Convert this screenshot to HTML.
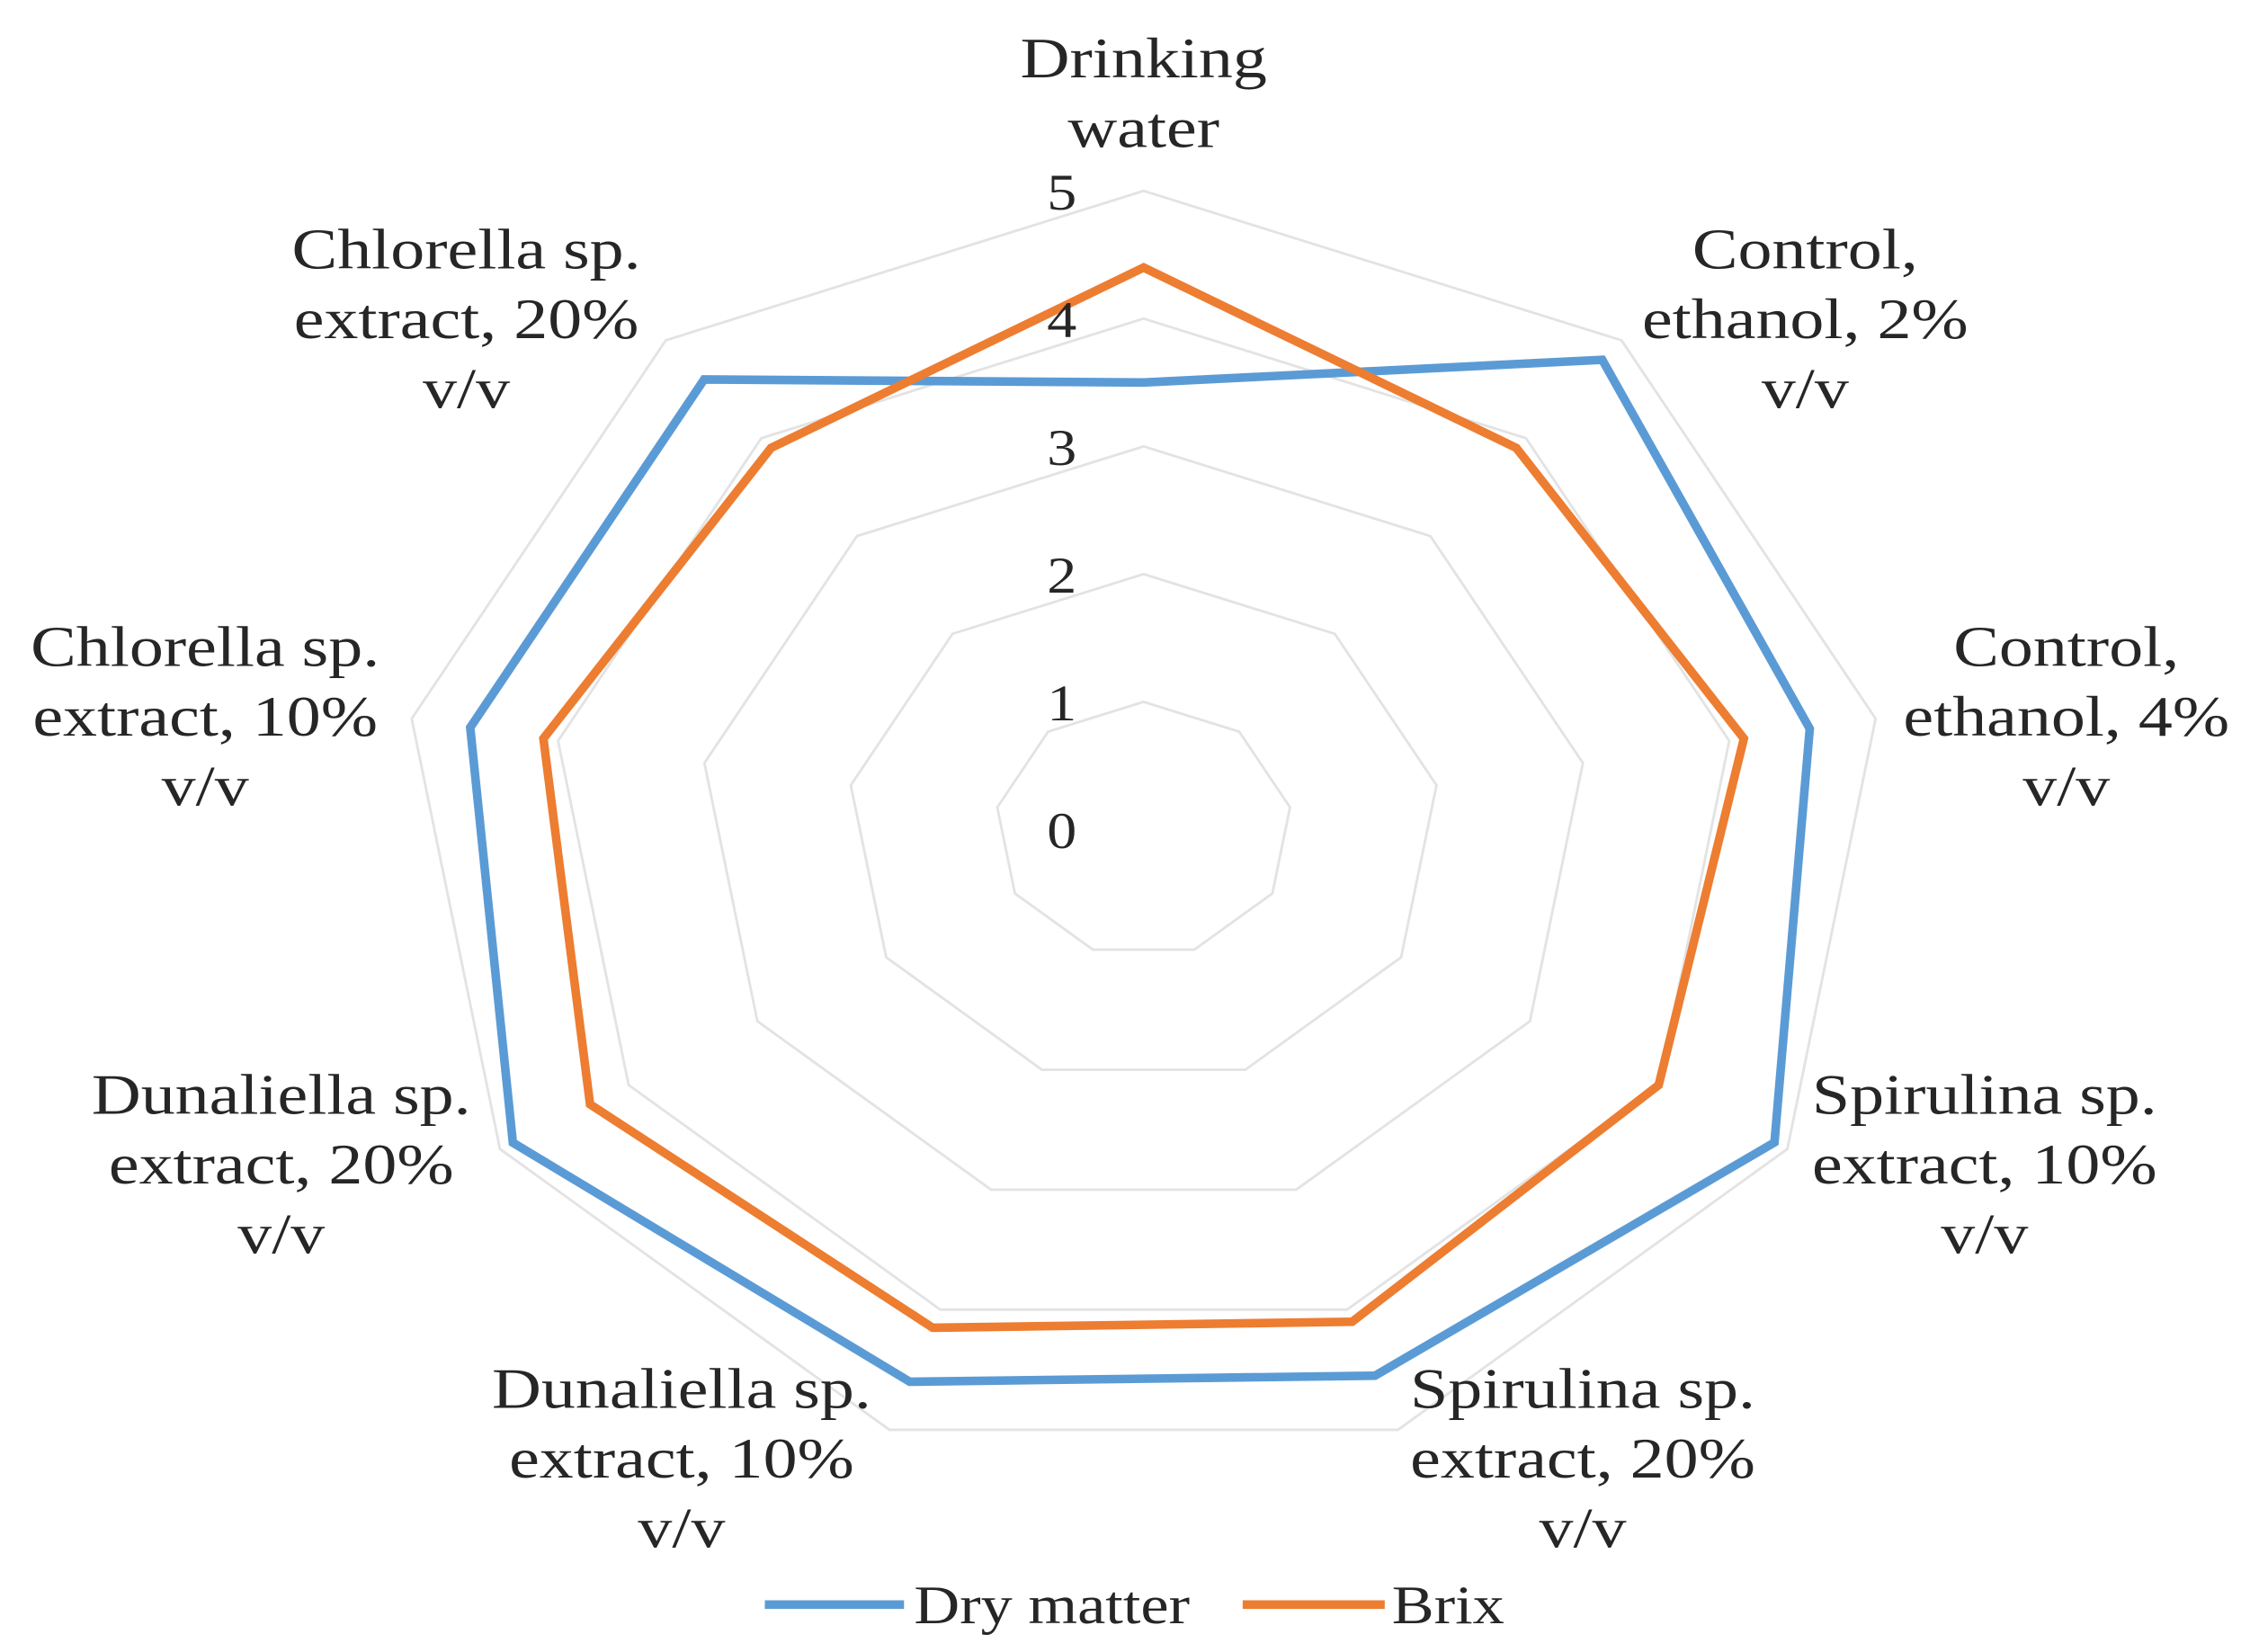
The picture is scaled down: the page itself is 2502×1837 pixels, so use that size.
<!DOCTYPE html>
<html><head><meta charset="utf-8"><style>
html,body{margin:0;padding:0;background:#fff;}
svg{display:block;}
text{font-family:"Liberation Serif",serif;fill:#262626;}
</style></head><body>
<svg id="chart" width="2502" height="1837" viewBox="0 0 1568 1151" preserveAspectRatio="none" xmlns="http://www.w3.org/2000/svg">
<g id="grid"></g>
<g id="series"></g>
<g id="labels"></g>
<g id="ticks"></g>
<g id="legend">
  <line x1="533" y1="1118" x2="630" y2="1118" stroke="#5b9bd5" stroke-width="6"/>
  <text x="637" y="1131" font-size="38" transform="translate(637 0) scale(1.16 1) translate(-637 0)">Dry matter</text>
  <line x1="866" y1="1118" x2="965" y2="1118" stroke="#ed7d31" stroke-width="6"/>
  <text x="970" y="1131" font-size="38" transform="translate(970 0) scale(1.16 1) translate(-970 0)">Brix</text>
</g>
</svg>
<script>
const categories = [["Drinking","water"],["Control,","ethanol, 2%","v/v"],["Control,","ethanol, 4%","v/v"],["Spirulina sp.","extract, 10%","v/v"],["Spirulina sp.","extract, 20%","v/v"],["Dunaliella sp.","extract, 10%","v/v"],["Dunaliella sp.","extract, 20%","v/v"],["Chlorella sp.","extract, 10%","v/v"],["Chlorella sp.","extract, 20%","v/v"]];
const dryMatter = [3.5, 4.8, 4.55, 4.9, 4.55, 4.6, 4.9, 4.6, 4.6];
const brix = [4.4, 3.9, 4.1, 4.0, 4.1, 4.15, 4.3, 4.1, 3.9];
const tickValues = [0, 1, 2, 3, 4, 5];
const maxValue = 5;

const NS = "http://www.w3.org/2000/svg";
const cx = 797, cy = 578, rxUnit = 103.6, ryUnit = 89;
const n = categories.length;
function px(i, v){ return cx + v * rxUnit * Math.sin(i * 2 * Math.PI / n); }
function py(i, v){ return cy - v * ryUnit * Math.cos(i * 2 * Math.PI / n); }
function mk(tag, attrs){ const e = document.createElementNS(NS, tag); for (const k in attrs) e.setAttribute(k, attrs[k]); return e; }

const grid = document.getElementById('grid');
tickValues.forEach(t => {
  if (t === 0) return;
  const pts = categories.map((c, i) => px(i, t).toFixed(1) + ',' + py(i, t).toFixed(1)).join(' ');
  const p = mk('polygon', {points: pts, fill: 'none', stroke: '#e3e3e3', 'stroke-width': 1.8});
  
  
  grid.appendChild(p);
});

const series = document.getElementById('series');
function drawSeries(vals, color, name){
  const pts = vals.map((v, i) => px(i, v).toFixed(1) + ',' + py(i, v).toFixed(1)).join(' ');
  const p = mk('polygon', {points: pts, fill: 'none', stroke: color, 'stroke-width': 6, 'stroke-linejoin': 'miter'});
  
  
  series.appendChild(p);
}
drawSeries(dryMatter, '#5b9bd5', 'dry-matter-line');
drawSeries(brix, '#ed7d31', 'brix-line');

const ticks = document.getElementById('ticks');
tickValues.forEach(t => {
  const tx = mk('text', {x: 740, y: cy - t * ryUnit + 13, 'font-size': 36, 'text-anchor': 'middle', transform: 'translate(740 0) scale(1.15 1) translate(-740 0)'});
  
  
  tx.textContent = t;
  ticks.appendChild(tx);
});

const labelPos = [[797,40],[1258,173],[1440,450],[1383,762],[1103,967],[475,967],[196,762],[143,450],[325,173]];
const labels = document.getElementById('labels');
categories.forEach((lines, i) => {
  const x0 = labelPos[i][0];
  const t = mk('text', {'font-size': 40, 'text-anchor': 'middle', transform: 'translate(' + x0 + ' 0) scale(1.19 1) translate(' + (-x0) + ' 0)'});
  
  
  lines.forEach((ln, j) => {
    const s = mk('tspan', {x: x0, y: labelPos[i][1] + j * 48.5 + 14});
    s.textContent = ln;
    t.appendChild(s);
  });
  labels.appendChild(t);
});
</script>
</body></html>
